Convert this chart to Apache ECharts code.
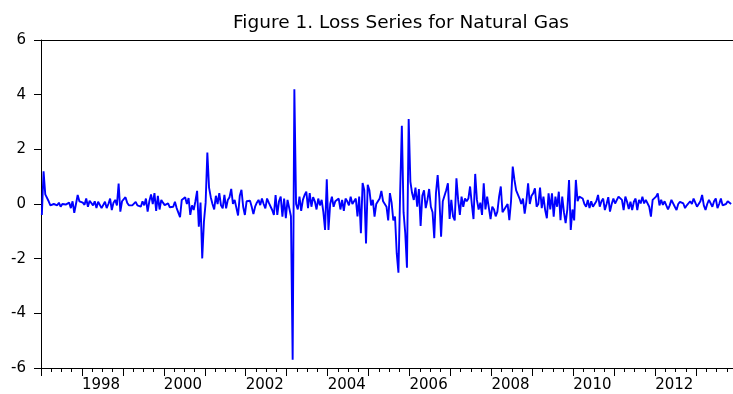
<!DOCTYPE html>
<html>
<head>
<meta charset="utf-8">
<script src="https://cdn.jsdelivr.net/npm/echarts@6/dist/echarts.min.js"></script>
<style>html,body{margin:0;padding:0;background:#fff}#c{width:733px;height:394px}</style>
</head>
<body>
<div id="c"></div>
<script>
// Semi-monthly loss values (24 per year)
const y1997 = [-0.4, 1.2, 0.35, 0.4, 0.1, -0.05, -0.1, 0.0, 0.05, -0.05, 0.05, -0.1, 0.0, 0.05, -0.02, -0.08, 0.05, -0.15, 0.1, -0.32, 0.0, 0.33, 0.1, 0.15];
const y1998 = [0.05, -0.03, 0.2, -0.1, 0.12, 0.05, -0.05, 0.1, -0.15, 0.08, 0.12, -0.15, -0.08, 0.08, -0.15, 0.0, 0.2, -0.22, 0.05, 0.15, -0.05, 0.75, -0.28, 0.1];
const y1999 = [0.08, 0.25, 0.05, -0.05, -0.1, -0.05, -0.1, 0.08, -0.05, 0.0, -0.1, 0.1, -0.05, 0.2, -0.28, 0.1, 0.35, 0.0, 0.4, -0.25, 0.3, -0.2, 0.15, 0.05];
const y2000 = [-0.04, -0.1, 0.02, -0.12, -0.05, -0.1, 0.08, -0.15, -0.1, -0.48, 0.15, 0.1, 0.25, 0.0, 0.22, -0.4, -0.05, -0.22, 0.1, 0.48, -0.83, 0.05, -1.99, -0.65];
const y2001 = [0.05, 1.88, 0.6, 0.25, 0.0, -0.2, 0.3, 0.0, 0.4, -0.05, -0.16, 0.33, -0.16, 0.15, 0.25, 0.55, 0.0, 0.15, 0.2, -0.42, 0.3, 0.52, -0.1, -0.4];
const y2002 = [0.1, 0.05, 0.12, -0.1, -0.37, -0.1, 0.05, 0.15, -0.04, 0.2, 0.0, -0.16, 0.2, 0.05, 0.02, -0.22, -0.4, 0.33, -0.4, 0.1, 0.27, -0.46, 0.2, -0.52];
const y2003 = [0.15, 0.1, -0.45, -5.7, 4.2, 0.0, -0.2, 0.27, -0.25, 0.15, 0.33, 0.45, -0.15, 0.4, -0.1, 0.25, 0.1, -0.2, 0.2, -0.05, 0.15, -0.3, -0.95, 0.9];
const y2004 = [-0.95, 0.0, 0.27, -0.1, 0.1, 0.15, 0.2, -0.2, 0.15, -0.25, 0.2, 0.1, -0.05, 0.27, 0.0, -0.05, 0.2, -0.45, 0.27, -1.07, 0.77, 0.5, -1.44, 0.7];
const y2005 = [0.5, -0.05, 0.15, -0.46, 0.0, 0.1, 0.2, 0.48, 0.1, 0.15, -0.1, -0.6, 0.4, 0.05, -0.6, -0.46, -1.8, -2.51, 0.4, 2.86, -0.3, -1.07, -2.33, 3.11];
const y2006 = [0.82, 0.4, 0.15, 0.6, -0.1, 0.55, -0.8, 0.3, 0.5, -0.15, 0.15, 0.55, -0.1, -0.3, -1.25, 0.4, 1.06, 0.2, -1.2, 0.1, 0.3, 0.5, 0.76, -0.55];
const y2007 = [0.15, -0.45, -0.6, 0.94, 0.15, -0.4, 0.27, -0.1, 0.2, 0.1, 0.2, 0.64, 0.0, -0.55, 1.1, 0.15, -0.2, 0.05, -0.4, 0.76, -0.2, 0.27, 0.2, -0.55];
const y2008 = [-0.1, -0.2, -0.45, -0.28, 0.27, 0.64, -0.3, -0.2, -0.25, 0.0, -0.59, 0.1, 1.37, 0.88, 0.5, 0.5, 0.2, 0.0, 0.2, -0.35, 0.1, 0.76, 0.0, 0.3];
const y2009 = [0.39, 0.57, -0.1, 0.0, 0.6, -0.15, 0.27, -0.22, -0.52, 0.39, -0.2, 0.39, -0.46, 0.27, -0.1, 0.45, -0.59, 0.27, -0.3, -0.7, -0.2, 0.88, -0.95, -0.2];
const y2010 = [-0.6, 0.88, 0.1, 0.27, 0.2, 0.2, 0.0, -0.1, 0.15, -0.15, 0.1, -0.1, 0.0, 0.1, 0.33, -0.1, 0.1, 0.2, -0.22, 0.0, 0.25, -0.28, 0.0, 0.2];
const y2011 = [0.02, 0.08, 0.27, 0.33, 0.15, -0.22, 0.27, 0.08, -0.18, 0.08, -0.22, 0.08, 0.2, -0.22, 0.15, 0.02, 0.27, 0.02, 0.15, 0.2, -0.1, -0.46, 0.15, 0.2];
const y2012 = [0.27, 0.39, -0.05, 0.15, -0.03, 0.1, 0.08, -0.2, -0.05, 0.15, 0.2, -0.1, -0.22, 0.0, 0.08, 0.15, 0.02, -0.15, -0.05, -0.1, 0.1, 0.0, 0.2, 0.27];
const y2013 = [-0.1, 0.0, 0.1, 0.33, -0.05, -0.22, 0.0, 0.15, 0.08, -0.1, 0.1, 0.2, -0.15, 0.0, 0.2, -0.05, -0.1, 0.0, 0.1, 0.15, 0.0];

const years = [1997,1998,1999,2000,2001,2002,2003,2004,2005,2006,2007,2008,2009,2010,2011,2012,2013];
const yearValues = [y1997,y1998,y1999,y2000,y2001,y2002,y2003,y2004,y2005,y2006,y2007,y2008,y2009,y2010,y2011,y2012,y2013];
const pointsPerYear = 24;
const yTicks = [-6,-4,-2,0,2,4,6];
const titleText = 'Figure 1. Loss Series for Natural Gas';

const data = [];
years.forEach((yr, k) => {
  yearValues[k].forEach((v, i) => data.push([yr + (i + 0.5) / pointsPerYear, v]));
});

const font = 'DejaVu Sans';
const chart = echarts.init(document.getElementById('c'), null, {renderer: 'canvas'});
chart.setOption({
  animation: false,
  backgroundColor: '#fff',
  title: {
    text: titleText,
    left: 396, top: 9, textAlign: 'center',
    textStyle: {fontFamily: font, fontSize: 18.5, fontWeight: 'normal', color: '#000'}
  },
  grid: {left: 41, width: 694, top: 40, bottom: 26, show: false, containLabel: false},
  xAxis: [{
    type: 'value', min: 1997, max: 2013.9, interval: 1, position: 'bottom',
    axisLine: {onZero: false, lineStyle: {color: '#000', width: 1}},
    axisTick: {show: true, inside: false, length: 8, lineStyle: {color: '#000'}},
    minorTick: {show: true, splitNumber: 4, length: 4, lineStyle: {color: '#000'}},
    splitLine: {show: false},
    axisLabel: {
      margin: 10, align: 'left', color: '#000', fontFamily: font, fontSize: 15,
      showMaxLabel: false,
      formatter: v => (Math.abs(v - Math.round(v)) < 1e-6 && Math.round(v) % 2 === 0) ? String(Math.round(v)) : ''
    }
  }, {
    type: 'value', min: 1997, max: 2013.9, interval: 1, position: 'top',
    axisLine: {onZero: false, lineStyle: {color: '#000', width: 1}},
    axisTick: {show: false}, axisLabel: {show: false}, splitLine: {show: false}
  }],
  yAxis: {
    type: 'value', min: yTicks[0], max: yTicks[yTicks.length - 1], interval: 2,
    axisLine: {show: true, onZero: false, lineStyle: {color: '#000', width: 1}},
    axisTick: {show: true, inside: false, length: 7, lineStyle: {color: '#000'}},
    splitLine: {show: false},
    axisLabel: {margin: 15, color: '#000', fontFamily: font, fontSize: 15}
  },
  series: [{
    type: 'line', data: data, showSymbol: false, symbol: 'none', xAxisIndex: 0,
    lineStyle: {color: '#0000FF', width: 1.9}, clip: true
  }]
});
</script>
</body>
</html>
